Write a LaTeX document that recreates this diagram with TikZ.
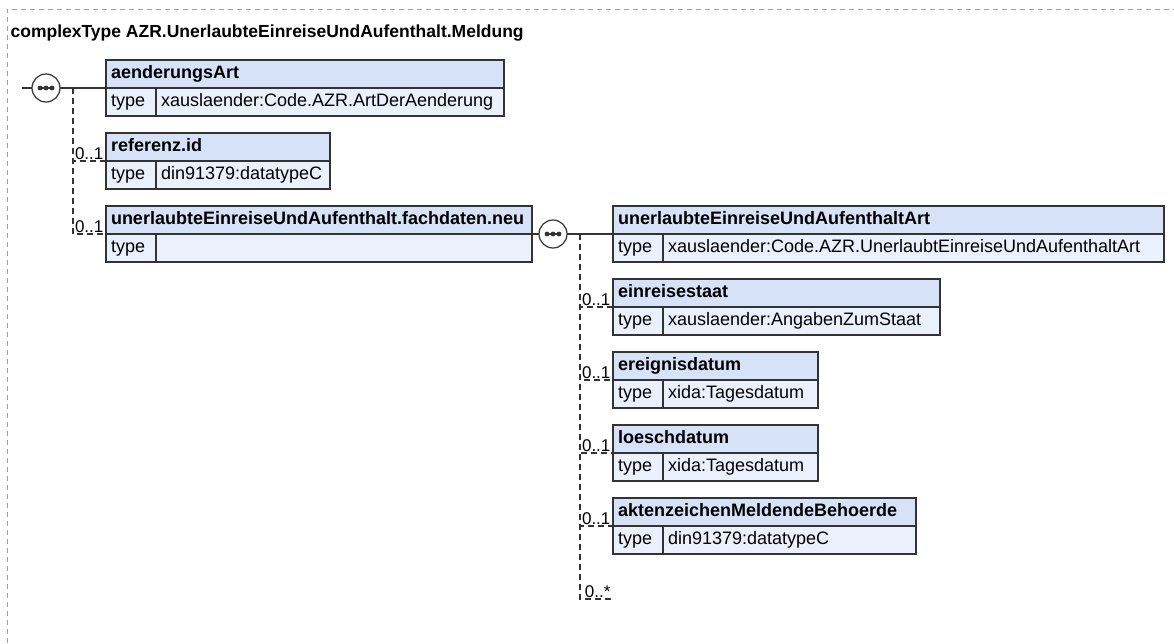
\documentclass[tikz,border=0pt]{standalone}
\usepackage{fontspec}
\setmainfont{Liberation Sans}
\usetikzlibrary{positioning}
\definecolor{hdrfill}{RGB}{214,226,247}
\definecolor{rowfill}{RGB}{234,241,252}
\definecolor{boxline}{RGB}{51,51,51}
\definecolor{framegray}{RGB}{160,160,160}

\begin{document}
\begin{tikzpicture}[x=1pt,y=-1pt,line width=1.2pt,
        hdr/.style={draw=boxline,fill=hdrfill,outer sep=0pt,inner xsep=5pt,inner ysep=0pt,
            minimum height=28pt,text height=14pt,text depth=5pt,align=left,anchor=south west,
            text width=#1,font=\fontsize{18}{21}\selectfont\bfseries},
        tkey/.style={draw=boxline,fill=rowfill,outer sep=0pt,inner xsep=5pt,inner ysep=0pt,
            minimum height=28pt,text height=14pt,text depth=5pt,align=left,
            text width=40pt,font=\fontsize{18}{21}\selectfont},
        tval/.style={tkey,text width=#1},
        seq/.style={circle,draw=boxline,fill=white,minimum size=28pt,inner sep=0pt},
        conn/.style={draw=boxline},
        opt/.style={conn,dash pattern=on 6pt off 4pt},
        card/.style={font=\fontsize{17}{20}\selectfont,inner xsep=2pt,inner ysep=1pt},
        ctitle/.style={font=\fontsize{17.5}{21}\selectfont\bfseries,inner sep=0pt},
        frame/.style={draw=framegray,line width=1pt,dash pattern=on 5pt off 4pt}]
    \useasboundingbox (0,0) rectangle (1174,643);
    \draw[frame] (7,643) -- (7,9) -- (1174,9);
    \node[ctitle,anchor=base west] (ttl) at (10,37) {complexType AZR.UnerlaubteEinreiseUndAufenthalt.Meldung};

    \node[hdr=388pt] (aend) at (106,88) {aenderungsArt};
    \node[tkey,below right=0pt of aend.south west] (aendk) {type};
    \node[tval=338pt,right=0pt of aendk] (aendv) {xauslaender:Code.AZR.ArtDerAenderung};

    \node[hdr=214pt] (ref) at (106,161) {referenz.id};
    \node[tkey,below right=0pt of ref.south west] (refk) {type};
    \node[tval=164pt,right=0pt of refk] (refv) {din91379:datatypeC};

    \node[hdr=416pt] (fach) at (106,234) {unerlaubteEinreiseUndAufenthalt.fachdaten.neu};
    \node[tkey,below right=0pt of fach.south west] (fachk) {type};
    \node[tval=366pt,right=0pt of fachk] (fachv) {};

    \node[hdr=541pt] (uea) at (613,234) {unerlaubteEinreiseUndAufenthaltArt};
    \node[tkey,below right=0pt of uea.south west] (ueak) {type};
    \node[tval=491pt,right=0pt of ueak] (ueav) {xauslaender:Code.AZR.UnerlaubtEinreiseUndAufenthaltArt};

    \node[hdr=317pt] (einr) at (613,307) {einreisestaat};
    \node[tkey,below right=0pt of einr.south west] (einrk) {type};
    \node[tval=267pt,right=0pt of einrk] (einrv) {xauslaender:AngabenZumStaat};

    \node[hdr=195pt] (ereig) at (613,380) {ereignisdatum};
    \node[tkey,below right=0pt of ereig.south west] (ereigk) {type};
    \node[tval=145pt,right=0pt of ereigk] (ereigv) {xida:Tagesdatum};

    \node[hdr=195pt] (loesch) at (613,453) {loeschdatum};
    \node[tkey,below right=0pt of loesch.south west] (loeschk) {type};
    \node[tval=145pt,right=0pt of loeschk] (loeschv) {xida:Tagesdatum};

    \node[hdr=293pt] (akten) at (613,526) {aktenzeichenMeldendeBehoerde};
    \node[tkey,below right=0pt of akten.south west] (aktenk) {type};
    \node[tval=243pt,right=0pt of aktenk] (aktenv) {din91379:datatypeC};

    \coordinate (stub) at (22,88);
    \coordinate (j1) at (73,88);
    \coordinate (j2) at (580,234);
    \coordinate (anyend) at (613,599);

    \draw[conn] (stub) -- (aend.south west);
    \draw[conn] (fach.south east) -- (uea.south west);
    \draw[opt] (j1) |- (ref.south west);
    \draw[opt] (j1) |- (fach.south west);
    \draw[opt] (j2) |- (einr.south west);
    \draw[opt] (j2) |- (ereig.south west);
    \draw[opt] (j2) |- (loesch.south west);
    \draw[opt] (j2) |- (akten.south west);
    \draw[opt] (j2) |- (anyend);

    \node[seq] (seq1) at (46,88) {};
    \node[seq] (seq2) at (553,234) {};
    \foreach \s in {seq1,seq2} {
        \draw[conn] ([xshift=-8pt]\s.center) -- ([xshift=8pt]\s.center);
        \foreach \d in {-6,0,6}
            \fill[boxline] ([xshift=\d pt]\s.center) circle (2.4pt);
    }

    \node[card,above left=0pt of ref.south west] (refc) {0..1};
    \node[card,above left=0pt of fach.south west] (fachc) {0..1};
    \node[card,above left=0pt of einr.south west] (einrc) {0..1};
    \node[card,above left=0pt of ereig.south west] (ereigc) {0..1};
    \node[card,above left=0pt of loesch.south west] (loeschc) {0..1};
    \node[card,above left=0pt of akten.south west] (aktenc) {0..1};
    \node[card,above left=0pt of anyend] (anyc) {0..*};
\end{tikzpicture}
\end{document}
